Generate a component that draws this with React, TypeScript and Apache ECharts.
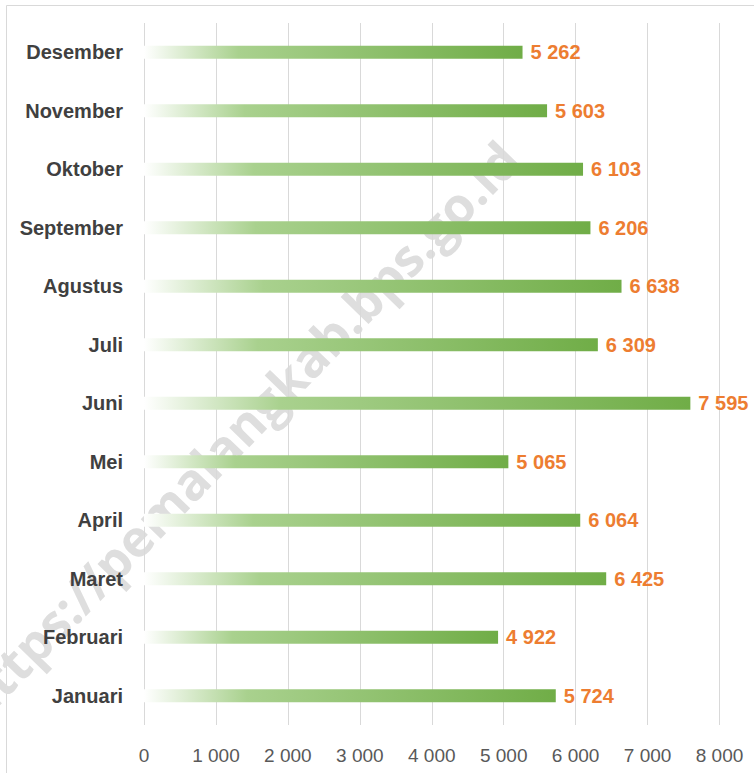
import React, { useEffect, useRef } from "react";
import * as echarts from "echarts";

const months = ["Januari", "Februari", "Maret", "April", "Mei", "Juni", "Juli", "Agustus", "September", "Oktober", "November", "Desember"];
const values = [5724, 4922, 6425, 6064, 5065, 7595, 6309, 6638, 6206, 6103, 5603, 5262];
const axisMin = 0;
const axisMax = 8000;
const axisStep = 1000;
const watermark = "https://pemalangkab.bps.go.id";

const fmt = (v: number) => {
  const s = String(Math.round(v));
  return s.replace(/\B(?=(\d{3})+(?!\d))/g, " ");
};

export default function App() {
  const ref = useRef<HTMLDivElement>(null);
  useEffect(() => {
    document.body.style.margin = "0";
    if (!ref.current) return;
    const chart = echarts.init(ref.current, undefined, { renderer: "svg" });
    chart.setOption({
      animation: false,
      backgroundColor: "#ffffff",
      grid: { left: 144, right: 34.5, top: 23, bottom: 48, containLabel: false },
      graphic: [
        {
          type: "rect",
          z: -20,
          silent: true,
          shape: { x: 6.5, y: 5.5, width: 900, height: 900 },
          style: { fill: "none", stroke: "#d9d9d9", lineWidth: 1 },
        },
        {
          type: "text",
          z: -10,
          silent: true,
          x: 238,
          y: 430,
          rotation: (46 * Math.PI) / 180,
          style: {
            text: watermark,
            fill: "#dedede",
            font: "bold 51px 'Open Sans', 'Liberation Sans', Arial, sans-serif",
            align: "center",
            verticalAlign: "middle",
          },
        },
      ],
      xAxis: {
        type: "value",
        min: axisMin,
        max: axisMax,
        interval: axisStep,
        axisLine: { show: false },
        axisTick: { show: false },
        splitLine: { show: true, lineStyle: { color: "#d9d9d9", width: 1 } },
        axisLabel: {
          formatter: (v: number) => fmt(v),
          color: "#595959",
          fontSize: 19,
          fontFamily: "'Liberation Sans', Arial, sans-serif",
          margin: 21,
        },
      },
      yAxis: {
        type: "category",
        data: months,
        axisLine: { show: false },
        axisTick: { show: false },
        splitLine: { show: false },
        axisLabel: {
          color: "#404040",
          fontSize: 20,
          fontWeight: "bold",
          fontFamily: "'Liberation Sans', Arial, sans-serif",
          margin: 21,
        },
      },
      series: [
        {
          type: "bar",
          data: values,
          barWidth: 13,
          itemStyle: {
            color: new echarts.graphic.LinearGradient(0, 0, 1, 0, [
              { offset: 0, color: "#ffffff" },
              { offset: 0.25, color: "#a9d18e" },
              { offset: 1, color: "#70ad47" },
            ]),
          },
          label: {
            show: true,
            position: "right",
            distance: 8,
            formatter: (p: any) => fmt(p.value),
            color: "#ed7d31",
            fontSize: 20,
            fontWeight: "bold",
            fontFamily: "'Liberation Sans', Arial, sans-serif",
          },
        },
      ],
    });
    return () => chart.dispose();
  }, []);
  return <div ref={ref} style={{ width: 754, height: 773 }} />;
}
